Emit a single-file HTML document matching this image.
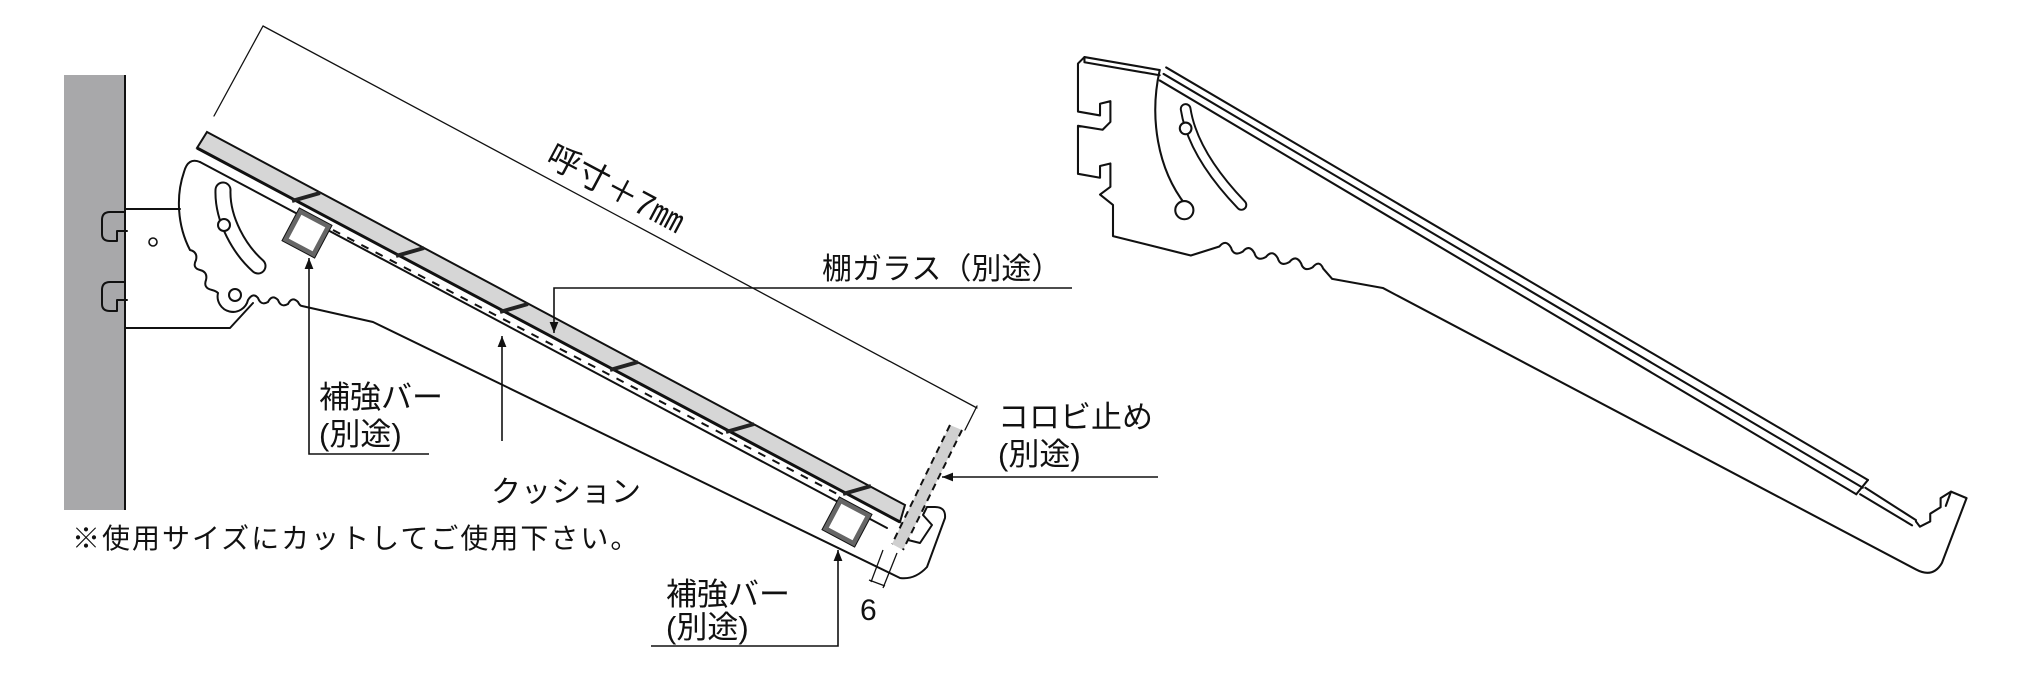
<!DOCTYPE html>
<html><head><meta charset="utf-8"><style>
html,body{margin:0;padding:0;background:#fff;}
svg{display:block;}
text{font-family:"Liberation Sans","Noto Sans CJK JP",sans-serif;fill:#111;}
</style></head><body>
<svg width="2034" height="681" viewBox="0 0 2034 681" xmlns="http://www.w3.org/2000/svg">
<defs>
<marker id="ah" viewBox="0 0 10 10" refX="10" refY="5" markerWidth="7" markerHeight="7" orient="auto-start-reverse"><path d="M0,1 L10,5 L0,9 z" fill="#111"/></marker>
</defs>
<rect x="64" y="75" width="61" height="435" fill="#a8a8aa"/>
<line x1="125" y1="75" x2="125" y2="510" stroke="#111" stroke-width="2"/>

<g fill="none" stroke="#111" stroke-width="2" stroke-linejoin="round" stroke-linecap="round">
<line x1="263" y1="26" x2="977" y2="408" stroke-width="1.3"/>
<line x1="263" y1="26" x2="214" y2="116" stroke-width="1.3"/>
<line x1="977" y1="406" x2="965" y2="430" stroke-width="1.3"/>
<path d="M125,209 L180,209"/>
<path d="M125,328 L230,328 L253,303"/>
<path d="M125,212 L110,212 Q102,212 102,220 L102,234 Q102,241 110,241 L117,241 L117,231 L127,231"/>
<path d="M125,282 L110,282 Q102,282 102,290 L102,304 Q102,311 110,311 L117,311 L117,300 L127,300"/>
<circle cx="153" cy="242" r="4" stroke-width="1.6"/>
<path d="M200,162 Q188,157 184,172 C176,195 177,225 190,250 q8,2 6,10 q-4,8 4,10 q8,2 6,10 q-3,8 6,10 q4,1 6,3 A13,13 0 0 0 248,300 q5,-8 10,-2 q3,8 10,4 q4,-8 10,-2 q3,8 10,4 q4,-8 10,-2 q2,4 4,4 L373,322 L900,578 Q915,580 927,567 L945,518 Q946,507 935,507 L927,507 L923,515 L932,525 L920,543 L908,540"/>
<path d="M200,162 L887,528"/>
<path d="M223,190 C222,220 240,250 258,266" stroke-width="17"/>
<path d="M223,190 C222,220 240,250 258,266" stroke="#fff" stroke-width="13"/>
<circle cx="224" cy="225" r="6" fill="#fff"/>
<circle cx="235" cy="295" r="6" fill="#fff"/>
</g>
<polygon points="207,132 905,505 900,522 197,148" fill="#d6d6d6" stroke="#111" stroke-width="2"/>
<line x1="197" y1="148" x2="900" y2="522" stroke="#111" stroke-width="3"/>
<g stroke="#222" stroke-width="4">
<line x1="292" y1="201" x2="320" y2="193"/>
<line x1="396" y1="256" x2="424" y2="248"/>
<line x1="500" y1="312" x2="528" y2="304"/>
<line x1="610" y1="370" x2="638" y2="362"/>
<line x1="726" y1="432" x2="754" y2="424"/>
<line x1="843" y1="494" x2="871" y2="486"/>
</g>
<line x1="333" y1="230" x2="843" y2="497" stroke="#111" stroke-width="2" stroke-dasharray="8,8"/>
<g transform="translate(307,233) rotate(28)"><rect x="-16" y="-16" width="32" height="32" fill="#fff" stroke="#666" stroke-width="5"/><rect x="-18.5" y="-18.5" width="37" height="37" fill="none" stroke="#111" stroke-width="1"/></g>
<g transform="translate(847,522) rotate(28)"><rect x="-16" y="-16" width="32" height="32" fill="#fff" stroke="#666" stroke-width="5"/><rect x="-18.5" y="-18.5" width="37" height="37" fill="none" stroke="#111" stroke-width="1"/></g>
<polygon points="950,425 962,430 903,550 892,544" fill="#d0d0d0"/>
<line x1="950" y1="425" x2="892" y2="544" stroke="#111" stroke-width="2" stroke-dasharray="7,5"/>
<line x1="962" y1="430" x2="903" y2="550" stroke="#111" stroke-width="2" stroke-dasharray="7,5"/>
<g stroke="#111" stroke-width="1.3" fill="none">
<line x1="883" y1="550" x2="871" y2="582"/>
<line x1="897" y1="553" x2="883" y2="588"/>
<line x1="869" y1="580" x2="885" y2="586"/>
</g>
<g stroke="#111" stroke-width="1.6" fill="none">
<path d="M1072,288 L554,288 L554,333" marker-end="url(#ah)"/>
<path d="M502,441 L502,336" marker-end="url(#ah)"/>
<path d="M429,454 L309,454 L309,258" marker-end="url(#ah)"/>
<path d="M651,646 L838,646 L838,550" marker-end="url(#ah)"/>
<path d="M1158,477 L942,477" marker-end="url(#ah)"/>
</g>
<text x="616" y="200" font-size="33" text-anchor="middle" transform="rotate(28 616 188)">呼寸＋7㎜</text>
<text x="822" y="279" font-size="30">棚ガラス（別途）</text>
<text x="491" y="502" font-size="30">クッション</text>
<text x="319" y="408" font-size="31">補強バー</text>
<text x="319" y="445" font-size="31">(別途)</text>
<text x="666" y="605" font-size="31">補強バー</text>
<text x="666" y="638" font-size="31">(別途)</text>
<text x="998" y="428" font-size="31">コロビ止め</text>
<text x="998" y="465" font-size="31">(別途)</text>
<text x="860" y="620" font-size="30">6</text>
<text x="72" y="548" font-size="28" letter-spacing="2">※使用サイズにカットしてご使用下さい。</text>

<g transform="scale(1.2972)" fill="none" stroke="#111" stroke-width="1.6" stroke-linejoin="round" stroke-linecap="round">
<path d="M894,54 L836,44 L831,49 L831,86 L848,89 L848,80 L856,78 L856,94 L850,100 L831,97 L831,134 L848,137 L848,128 L856,126 L856,144 L848,150 L858,158 L858,182 L918,197 L940,190 q5,-6 9,1 q2,7 9,3 q5,-6 9,1 q2,7 9,3 q5,-6 9,1 q2,7 9,3 q5,-6 9,1 q2,7 9,3 q5,-6 8,1 L1027,215 L1066,222 L1477,439 Q1490,446 1497,434 L1516,384 L1504,379 L1496,384 L1496,391 L1488,396 L1488,402 L1480,406 L1477,402"/>
<path d="M836,44 L836,48 L894,58"/>
<path d="M894,54 C886,90 892,130 914,158"/>
<path d="M899,52 L1440,370"/>
<path d="M897,57 L1436,376"/>
<path d="M894,62 L1431,381"/>
<path d="M1440,370 L1431,381"/>
<path d="M1438,376 L1477,401"/>
<path d="M1434,381 L1474,405"/>
<path d="M1500,390 L1504,379"/>
<path d="M914,84 C918,110 935,135 957,158" stroke-width="9"/>
<path d="M914,84 C918,110 935,135 957,158" stroke="#fff" stroke-width="6"/>
<circle cx="914" cy="99" r="4.5" fill="#fff"/>
<circle cx="913" cy="162" r="7" fill="#fff"/>
</g>
</svg>
</body></html>
